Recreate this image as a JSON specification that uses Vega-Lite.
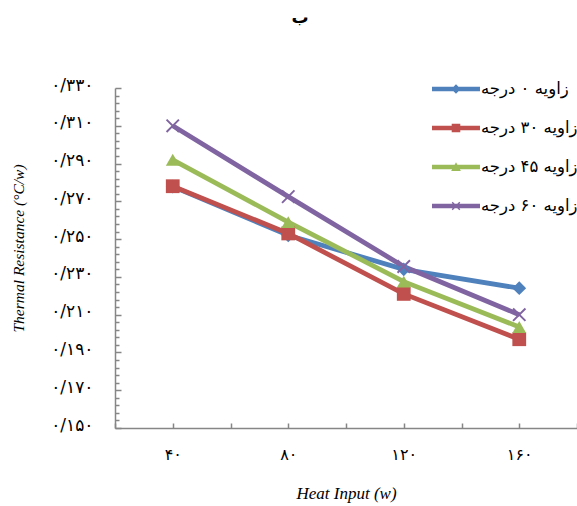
{
  "$schema": "https://vega.github.io/schema/vega-lite/v6.json",
  "width": 462,
  "height": 340,
  "autosize": {"type": "none"},
  "padding": {"left": 115, "top": 88, "right": 0, "bottom": 78},
  "background": "white",
  "title": {"text": "ب", "fontSize": 17, "font": "DejaVu Sans", "fontWeight": "bold", "anchor": "middle", "dx": -46, "offset": 43, "color": "black"},
  "config": {"view": {"stroke": null}, "axis": {"grid": false}},
  "data": {
    "values": [
      {"series": "زاویه ۰ درجه", "heat": 40, "resistance": 0.2778},
      {"series": "زاویه ۰ درجه", "heat": 80, "resistance": 0.252},
      {"series": "زاویه ۰ درجه", "heat": 120, "resistance": 0.234},
      {"series": "زاویه ۰ درجه", "heat": 160, "resistance": 0.224},
      {"series": "زاویه ۳۰ درجه", "heat": 40, "resistance": 0.278},
      {"series": "زاویه ۳۰ درجه", "heat": 80, "resistance": 0.253},
      {"series": "زاویه ۳۰ درجه", "heat": 120, "resistance": 0.221},
      {"series": "زاویه ۳۰ درجه", "heat": 160, "resistance": 0.197},
      {"series": "زاویه ۴۵ درجه", "heat": 40, "resistance": 0.292},
      {"series": "زاویه ۴۵ درجه", "heat": 80, "resistance": 0.259},
      {"series": "زاویه ۴۵ درجه", "heat": 120, "resistance": 0.2275},
      {"series": "زاویه ۴۵ درجه", "heat": 160, "resistance": 0.2035},
      {"series": "زاویه ۶۰ درجه", "heat": 40, "resistance": 0.310},
      {"series": "زاویه ۶۰ درجه", "heat": 80, "resistance": 0.2725},
      {"series": "زاویه ۶۰ درجه", "heat": 120, "resistance": 0.2355},
      {"series": "زاویه ۶۰ درجه", "heat": 160, "resistance": 0.210}
    ]
  },
  "encoding": {
    "x": {
      "field": "heat", "type": "quantitative",
      "scale": {"domain": [20, 180], "nice": false, "zero": false},
      "axis": {
        "values": [20, 40, 60, 80, 100, 120, 140, 160, 180],
        "domainColor": "#868686", "domainWidth": 1.5,
        "tickColor": "#868686", "tickWidth": 1.5, "tickSize": -5,
        "labelExpr": "datum.value==40?'۴۰':datum.value==80?'۸۰':datum.value==120?'۱۲۰':datum.value==160?'۱۶۰':''",
        "labelFont": "DejaVu Sans", "labelFontSize": 16, "labelColor": "black",
        "labelPadding": 23, "labelFlush": false, "labelOverlap": false, "labelBound": false,
        "title": "Heat Input  (w)", "titleFont": "Liberation Serif", "titleFontStyle": "italic",
        "titleFontWeight": "normal", "titleFontSize": 17, "titleColor": "black",
        "titleX": 231, "titleY": 65, "titleBaseline": "middle", "titleAlign": "center"
      }
    },
    "y": {
      "field": "resistance", "type": "quantitative",
      "scale": {"domain": [0.15, 0.33], "nice": false, "zero": false},
      "axis": {
        "values": [0.150, 0.154, 0.158, 0.162, 0.166, 0.170, 0.174, 0.178, 0.182, 0.186, 0.190, 0.194, 0.198, 0.202, 0.206, 0.210, 0.214, 0.218, 0.222, 0.226, 0.230, 0.234, 0.238, 0.242, 0.246, 0.250, 0.254, 0.258, 0.262, 0.266, 0.270, 0.274, 0.278, 0.282, 0.286, 0.290, 0.294, 0.298, 0.302, 0.306, 0.310, 0.314, 0.318, 0.322, 0.326, 0.330],
        "domainColor": "#868686", "domainWidth": 1.5,
        "tickColor": "#868686", "tickWidth": 1.5,
        "tickSize": {"condition": {"test": "abs(round((datum.value-0.15)*50)-(datum.value-0.15)*50)<0.001", "value": -6}, "value": -4},
        "labelExpr": "abs(round((datum.value-0.15)*50)-(datum.value-0.15)*50)<0.001 ? replace(replace(replace(replace(replace(replace(replace(replace(replace(replace(replace(format(datum.value,'.3f'),'.','/'),regexp('0','g'),'۰'),regexp('1','g'),'۱'),regexp('2','g'),'۲'),regexp('3','g'),'۳'),regexp('4','g'),'۴'),regexp('5','g'),'۵'),regexp('6','g'),'۶'),regexp('7','g'),'۷'),regexp('8','g'),'۸'),regexp('9','g'),'۹') : ''",
        "labelFont": "DejaVu Sans", "labelFontSize": 17, "labelColor": "black",
        "labelPadding": 28, "labelOffset": -3, "labelOverlap": false, "labelFlush": false, "labelBound": false,
        "title": "Thermal Resistance (°C/w)", "titleFont": "Liberation Serif", "titleFontStyle": "italic",
        "titleFontWeight": "normal", "titleFontSize": 15.5, "titleColor": "black",
        "titleX": -97, "titleY": 160, "titleAngle": -90, "titleAlign": "center", "titleBaseline": "middle"
      }
    }
  },
  "layer": [
    {
      "mark": {"type": "line", "strokeWidth": 4.8},
      "encoding": {
        "color": {
          "field": "series", "type": "nominal",
          "scale": {"domain": ["زاویه ۰ درجه", "زاویه ۳۰ درجه", "زاویه ۴۵ درجه", "زاویه ۶۰ درجه"], "range": ["#4F81BD", "#C0504D", "#9BBB59", "#8064A2"]},
          "legend": {
            "title": null, "orient": "none", "legendX": 321.5, "legendY": -18.5, "padding": 0,
            "symbolSize": 1521, "labelOffset": 5.5, "rowPadding": 11,
            "labelFont": "DejaVu Sans", "labelFontSize": 16.5, "labelColor": "black", "labelLimit": 200,
            "symbolStrokeWidth": 0, "symbolOpacity": 1
          }
        }
      }
    },
    {
      "transform": [{"filter": "datum.heat < 0"}],
      "mark": {"type": "point", "filled": true, "opacity": 1, "strokeWidth": 0},
      "encoding": {
        "color": {"field": "series", "type": "nominal"},
        "shape": {
          "field": "series", "type": "nominal",
          "scale": {
            "domain": ["زاویه ۰ درجه", "زاویه ۳۰ درجه", "زاویه ۴۵ درجه", "زاویه ۶۰ درجه"],
            "range": [
              "M-1.23,-0.12H1.23V0.12H-1.23Z M0,-0.24L0.24,0L0,0.24L-0.24,0Z",
              "M-1.23,-0.12H1.23V0.12H-1.23Z M-0.22,-0.22H0.22V0.22H-0.22Z",
              "M-1.23,-0.12H1.23V0.12H-1.23Z M0,-0.25L0.25,0.2L-0.25,0.2Z",
              "M-1.23,-0.12H1.23V0.12H-1.23Z M-0.22,-0.17L-0.17,-0.22L0.22,0.17L0.17,0.22Z M0.17,-0.22L0.22,-0.17L-0.17,0.22L-0.22,0.17Z"
            ]
          }
        }
      }
    },
    {
      "transform": [{"filter": "datum.series === 'زاویه ۰ درجه'"}],
      "mark": {"type": "point", "shape": "diamond", "filled": true, "size": 190, "opacity": 1, "strokeWidth": 0, "color": "#4F81BD"}
    },
    {
      "transform": [{"filter": "datum.series === 'زاویه ۳۰ درجه'"}],
      "mark": {"type": "point", "shape": "square", "filled": true, "size": 190, "opacity": 1, "strokeWidth": 0, "color": "#C0504D"}
    },
    {
      "transform": [{"filter": "datum.series === 'زاویه ۴۵ درجه'"}],
      "mark": {"type": "point", "shape": "triangle-up", "filled": true, "size": 190, "opacity": 1, "strokeWidth": 0, "color": "#9BBB59"}
    },
    {
      "transform": [{"filter": "datum.series === 'زاویه ۶۰ درجه'"}],
      "mark": {"type": "point", "shape": "M-1,-0.8L-0.8,-1L1,0.8L0.8,1Z M0.8,-1L1,-0.8L-0.8,1L-1,0.8Z", "filled": true, "size": 190, "opacity": 1, "strokeWidth": 0, "color": "#8064A2"}
    }
  ]
}
